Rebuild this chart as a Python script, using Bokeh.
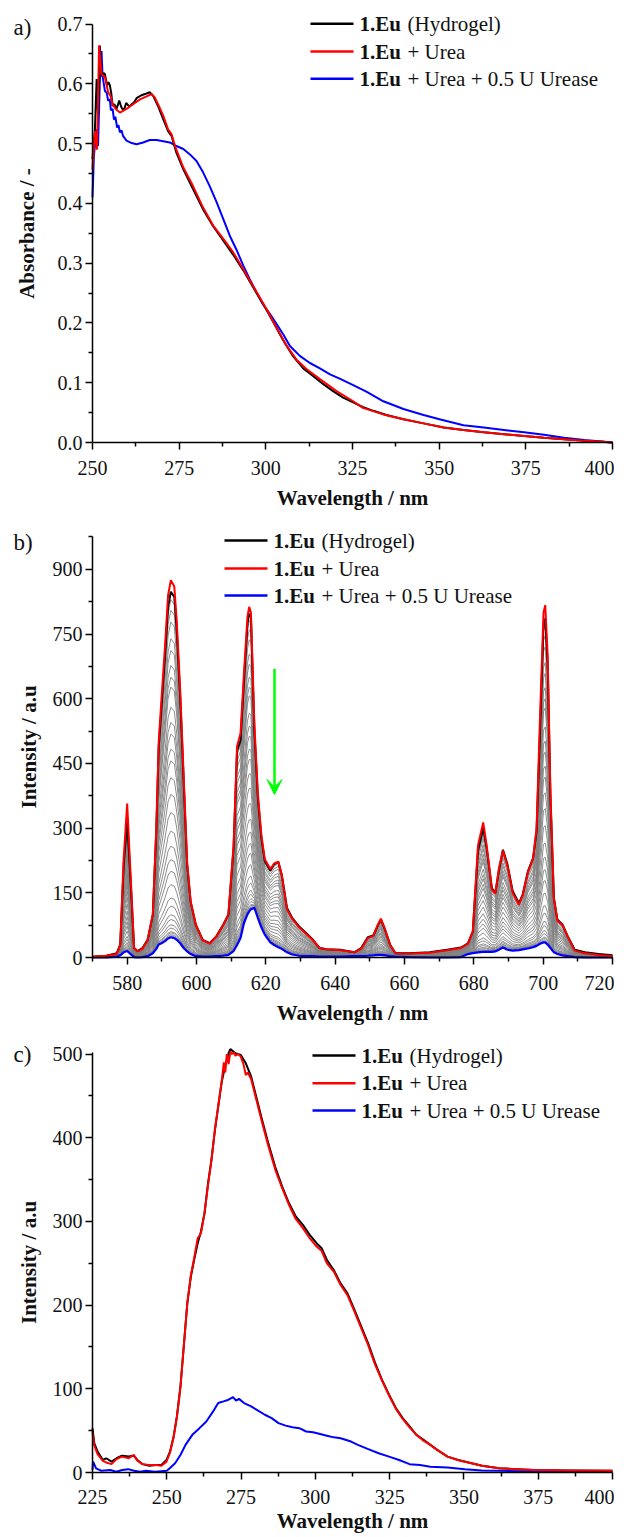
import numpy as np
from bokeh.plotting import figure
from bokeh.models import Range1d, FixedTicker, Label, Arrow, VeeHead, PrintfTickFormatter
from bokeh.layouts import column
from bokeh.embed import file_html
from bokeh.resources import INLINE

# ---------------- data: panel a (UV-vis absorbance) ----------------
wl_a_black = [250.0, 250.7, 251.2, 251.6, 252.1, 252.6, 253.2, 253.6, 254.2, 254.6,
              255.0, 255.4, 255.8, 256.3, 256.9, 257.4, 257.7, 258.1, 258.4, 258.9,
              259.3, 259.7, 260.0, 260.6, 261.3, 262.0, 262.7, 264.1, 265.6, 266.5,
              267.5, 268.9, 270.4, 271.8, 272.8, 274.2, 276.2, 279.0, 281.9, 284.8,
              287.7, 290.6, 293.5, 296.3, 299.2, 302.1, 305.0, 307.9, 310.8, 313.7,
              316.5, 319.4, 322.3, 325.2, 328.1, 331.0, 334.8, 339.7, 345.5, 351.3,
              357.0, 362.9, 368.7, 374.5, 380.2, 386.0, 392.0, 396.0, 400.0]
abs_a_black = [0.474, 0.524, 0.608, 0.547, 0.664, 0.613, 0.618, 0.616, 0.597, 0.603,
               0.598, 0.585, 0.563, 0.566, 0.558, 0.566, 0.572, 0.565, 0.56, 0.556,
               0.56, 0.568, 0.566, 0.562, 0.566, 0.569, 0.576, 0.581, 0.584, 0.586,
               0.58, 0.563, 0.541, 0.521, 0.513, 0.485, 0.457, 0.424, 0.39, 0.362,
               0.338, 0.314, 0.288, 0.26, 0.232, 0.202, 0.171, 0.144, 0.124, 0.111,
               0.098, 0.086, 0.075, 0.067, 0.059, 0.053, 0.046, 0.039, 0.032, 0.025,
               0.021, 0.017, 0.014, 0.011, 0.008, 0.0056, 0.003, 0.0015, 0.0]

wl_a_red = [250.0, 250.7, 251.3, 251.9, 252.6, 253.6, 254.5, 255.2, 255.8, 256.7,
            257.9, 258.8, 260.3, 261.7, 263.7, 265.6, 267.0, 268.0, 268.9, 270.4,
            271.8, 272.8, 273.8, 276.2, 279.0, 281.9, 284.8, 287.7, 290.6, 293.5,
            296.3, 300.2, 303.1, 306.0, 308.8, 311.7, 315.6, 320.4, 325.2, 328.0,
            333.9, 339.7, 345.5, 351.3, 357.0, 362.9, 368.7, 374.5, 380.2, 386.0,
            392.0, 396.0, 400.0]
abs_a_red = [0.457, 0.521, 0.49, 0.664, 0.616, 0.611, 0.586, 0.58, 0.566, 0.558,
             0.552, 0.555, 0.56, 0.566, 0.574, 0.579, 0.583, 0.577, 0.566, 0.547,
             0.524, 0.516, 0.496, 0.46, 0.429, 0.393, 0.363, 0.341, 0.318, 0.29,
             0.262, 0.223, 0.192, 0.162, 0.139, 0.123, 0.106, 0.086, 0.069, 0.058,
             0.047, 0.039, 0.032, 0.025, 0.021, 0.017, 0.014, 0.011, 0.008, 0.0056,
             0.003, 0.0015, 0.0]

wl_a_blue = [250.0, 250.4, 250.7, 251.2, 251.6, 252.1, 252.6, 252.9, 253.6, 254.1,
             254.5, 255.0, 255.3, 255.8, 256.2, 256.6, 257.1, 257.5, 257.9, 258.4,
             258.8, 259.8, 261.3, 262.7, 264.6, 266.5, 268.5, 270.4, 272.3, 274.2,
             276.2, 278.1, 280.0, 281.9, 283.8, 285.8, 287.7, 289.6, 291.5, 293.5,
             295.4, 297.3, 299.2, 301.2, 303.1, 305.0, 306.9, 309.8, 312.7, 315.6,
             318.5, 321.3, 325.2, 329.0, 333.9, 339.7, 345.5, 350.1, 357.0, 362.9,
             368.7, 374.5, 380.2, 386.0, 391.9, 396.0, 400.0]
abs_a_blue = [0.41, 0.48, 0.496, 0.524, 0.496, 0.602, 0.655, 0.613, 0.588, 0.585,
              0.572, 0.574, 0.556, 0.558, 0.54, 0.545, 0.527, 0.531, 0.519, 0.522,
              0.513, 0.505, 0.501, 0.499, 0.502, 0.506, 0.506, 0.504, 0.502, 0.496,
              0.491, 0.482, 0.471, 0.452, 0.429, 0.402, 0.374, 0.346, 0.323, 0.296,
              0.273, 0.251, 0.231, 0.215, 0.198, 0.181, 0.162, 0.145, 0.133, 0.124,
              0.114, 0.107, 0.096, 0.085, 0.069, 0.056, 0.046, 0.039, 0.029, 0.025,
              0.021, 0.017, 0.013, 0.008, 0.0044, 0.002, 0.0]

# ---------------- data: panel b (emission, titration) ----------------
wl_b = [570, 574, 577, 578, 579, 580, 581, 582, 583, 584.4,
        585.9, 587.4, 588.4, 589.1, 589.9, 590.9, 591.8, 592.6, 593.6, 594.3,
        595.3, 596.3, 597.3, 598.3, 599.8, 601.8, 603.8, 605.7, 607.7, 609.2,
        610.7, 611.7, 612.7, 613.7, 614.7, 615.2, 615.7, 616.7, 617.7, 618.7,
        619.7, 621.3, 622.4, 623.6, 624.6, 626.1, 627.6, 629.6, 631.6, 633.6,
        635.5, 637.5, 641.5, 645.5, 647.5, 649.4, 651, 652.4, 653.2, 654.4,
        655.9, 657.4, 661.4, 667.3, 672.3, 676.3, 678.3, 679.7, 681.2, 682.7,
        683.7, 685.2, 686.2, 687.2, 688.4, 689.7, 691.2, 693, 694.1, 695.6,
        697.1, 698.1, 699.1, 700.1, 700.6, 701.3, 702.1, 703.1, 704.1, 705.6,
        707.1, 709.1, 712, 716, 720]
int_b_black = [2, 4, 10, 30, 215, 316, 177, 22, 15, 22,
               41, 99, 293, 487, 580, 697, 813, 848, 836, 759,
               603, 410, 216, 130, 76, 41, 33, 49, 76, 99,
               254, 479, 503, 642, 774, 797, 790, 526, 371, 278,
               223, 202, 216, 222, 192, 115, 92, 72, 57, 41,
               22, 19, 18, 12, 22, 47, 51, 76, 88, 64,
               29, 10, 10, 12, 18, 23, 33, 60, 247, 301,
               254, 161, 150, 200, 250, 216, 154, 126, 146, 200,
               231, 293, 526, 774, 786, 681, 371, 138, 88, 76,
               49, 18, 12, 8, 5]
int_b_red = [2, 4, 8, 30, 230, 357, 190, 22, 14, 20,
             40, 100, 300, 500, 600, 720, 840, 875, 860, 780,
             620, 420, 220, 130, 76, 40, 32, 48, 75, 100,
             260, 490, 520, 660, 790, 813, 800, 540, 380, 285,
             228, 205, 218, 222, 190, 112, 90, 70, 55, 40,
             22, 19, 17, 12, 20, 45, 50, 78, 90, 65,
             28, 10, 9, 11, 17, 22, 32, 60, 260, 313,
             260, 158, 148, 205, 248, 212, 150, 122, 145, 198,
             230, 300, 560, 800, 817, 700, 380, 135, 86, 75,
             48, 16, 10, 6, 3]
int_b_blue = [0, 0, 2, 5, 12, 15, 8, 1, 0, 1,
              3, 10, 20, 30, 33, 38, 44, 47, 45, 41,
              33, 22, 14, 8, 3, 2, 2, 3, 4, 6,
              15, 29, 45, 80, 100, 107, 112, 115, 92, 70,
              53, 35, 29, 24, 20, 12, 7, 4, 3, 3,
              2, 2, 2, 3, 3, 4, 5, 6, 6, 5,
              3, 2, 1, 0, 0, 1, 8, 10, 12, 13,
              13, 13, 14, 18, 23, 18, 16, 17, 19, 21,
              24, 27, 32, 35, 35, 30, 22, 12, 8, 5,
              3, 1, 0, 0, 0]
# peak heights (592 nm band) of the intermediate (grey) spectra
grey_peak_592 = [830, 805, 778, 739, 712, 677, 650, 627, 580, 545, 518, 483, 456,
                 417, 378, 336, 293, 258, 227, 200, 169, 138, 119, 99, 88, 76, 68,
                 60, 57, 53, 50]
arrow_wl = 622.5
arrow_top = 669
arrow_tip = 378

# ---------------- data: panel c (excitation) ----------------
wl_c_black = [225, 225.6, 226.7, 228.5, 229.6, 231.4, 233.1, 234.9, 237.2, 238.9,
              240.1, 241.8, 244.1, 246.5, 248.2, 249.9, 251.1, 252.3, 253.4, 254.6,
              255.7, 256.9, 258.1, 259.2, 260.4, 261.5, 262.7, 263.9, 265, 266.2,
              267.3, 268.5, 269.7, 270.8, 271.4, 273.1, 274.9, 276.6, 278.4, 280.1,
              281.8, 284.2, 286.5, 288.8, 291.1, 293.4, 295.8, 298.1, 300.4, 302.1,
              303.9, 306.2, 308.5, 310.8, 313.2, 315.5, 317.8, 320.1, 322.4, 324.8,
              327.1, 329.4, 331.7, 334, 336.4, 338.7, 341, 344.5, 348, 351.5,
              356.1, 361.9, 367.7, 373.5, 385.1, 400]
int_c_black = [53, 35, 25, 15, 17, 13, 17, 20, 19, 20,
               15, 10, 8, 9, 9, 15, 25, 43, 67, 103,
               150, 202, 234, 254, 274, 288, 310, 346, 373, 409,
               437, 467, 487, 501, 506, 501, 499, 489, 473, 449,
               425, 393, 365, 342, 322, 306, 296, 284, 274, 268,
               254, 242, 226, 214, 194, 174, 154, 131, 111, 93,
               77, 65, 55, 45, 39, 33, 27, 19, 15, 12,
               8, 5, 4, 3, 2.5, 2]
wl_c_red = [225, 225.6, 226.7, 228.5, 229.6, 231.4, 233.1, 234.9, 237.2, 238.9,
            240.1, 241.8, 244.1, 246.5, 248.2, 249.9, 251.1, 252.3, 253.4, 254.6,
            255.7, 256.9, 258.1, 259.2, 260.4, 261.5, 262.7, 263.9, 265, 266.2,
            267.3, 268.5, 269.2, 269.7, 270.2, 270.8, 271.4, 272.0, 272.6, 273.1,
            274.0, 274.9, 275.8, 276.6, 277.3, 278.4, 280.1, 281.8, 284.2, 286.5,
            288.8, 291.1, 293.4, 295.8, 298.1, 300.4, 302.1, 303.9, 306.2, 308.5,
            310.8, 313.2, 315.5, 317.8, 320.1, 322.4, 324.8, 327.1, 329.4, 331.7,
            334, 336.4, 338.7, 341, 344.5, 348, 351.5, 356.1, 361.9, 367.7,
            373.5, 385.1, 400]
int_c_red = [48, 32, 22, 14, 12, 10, 16, 19, 17, 21,
             14, 10, 9, 9, 8, 13, 24, 42, 66, 102,
             150, 202, 236, 256, 280, 286, 310, 344, 372, 410,
             438, 468, 490, 478, 500, 488, 503, 500, 502, 498,
             500, 497, 488, 475, 478, 470, 446, 422, 390, 362,
             340, 320, 303, 292, 280, 270, 265, 250, 240, 224,
             212, 192, 172, 152, 129, 110, 92, 76, 64, 54,
             45, 38, 33, 27, 19, 15, 12, 8, 5, 4,
             3, 2.5, 2]
wl_c_blue = [225, 225.2, 226.2, 228, 231, 233, 235, 237, 239, 241,
             243, 246, 248, 250, 251, 252.8, 254.6, 256.3, 258.6, 261,
             263.3, 265.6, 267.3, 269.1, 270.8, 272.3, 273.3, 274.3, 276, 278.4,
             280.7, 283, 285.3, 287.6, 290, 292.3, 294.6, 296.9, 299.2, 301.6,
             303.9, 306.2, 308.5, 312, 314.3, 317.8, 321.3, 324.8, 328.2, 331.7,
             335.2, 338.7, 344.5, 350.3, 356, 362, 375, 400]
int_c_blue = [3, 13, 5, 2, 3, 1, 3, 4, 2, 1,
              2, 1, 1.5, 2, 5, 11, 21, 33, 45, 53,
              61, 73, 83, 85, 87, 90, 86, 88, 83, 79,
              74, 69, 65, 59, 56, 54, 53, 49, 48, 46,
              44, 42, 41, 37, 33, 28, 23, 19, 15, 10,
              9, 7, 6, 4, 2.4, 2, 1, 1]

# ---------------- tick positions ----------------
a_xticks = [250, 275, 300, 325, 350, 375, 400]
a_xminor = [262.5, 287.5, 312.5, 337.5, 362.5, 387.5]
a_yticks = [0.0, 0.1, 0.2, 0.3, 0.4, 0.5, 0.6, 0.7]
a_yminor = [0.05, 0.15, 0.25, 0.35, 0.45, 0.55, 0.65]
b_xticks = [580, 600, 620, 640, 660, 680, 700, 720]
b_xminor = [570, 590, 610, 630, 650, 670, 690, 710]
b_yticks = [0, 150, 300, 450, 600, 750, 900]
b_yminor = [75, 225, 375, 525, 675, 825, 975]
c_xticks = [225, 250, 275, 300, 325, 350, 375, 400]
c_xminor = [237.5, 262.5, 287.5, 312.5, 337.5, 362.5, 387.5]
c_yticks = [0, 100, 200, 300, 400, 500]
c_yminor = [50, 150, 250, 350, 450]

legend_names = [("1.Eu", "(Hydrogel)"), ("1.Eu", "+ Urea"), ("1.Eu", "+ Urea + 0.5 U Urease")]
legend_colors = ["#000000", "#ff0000", "#0000ff"]

SERIF = "Liberation Serif, Times New Roman, serif"
TXT = "#111111"
W = 614          # figure width (the plotting frame spans the whole figure)
AX_L = 92        # page x of the left end of the x axis
AX_R = 612       # page x of the right end of the x axis


class Panel:
    def __init__(self, fig_top, height, zero_y, xmin, xmax, ytop_axis, px_per_unit,
                 xt, xm, yt, ym, ylabel, ylab_standoff, s1, s2):
        self.top = fig_top
        self.h = height
        span = xmax - xmin
        x0 = xmin - AX_L / (AX_R - AX_L) * span
        x1 = xmax + (W - AX_R) / (AX_R - AX_L) * span
        below = fig_top + height - zero_y      # pixels below the zero line
        above = zero_y - fig_top
        p = figure(frame_width=W, frame_height=height,
                   x_range=Range1d(x0, x1),
                   y_range=Range1d(-below / px_per_unit, above / px_per_unit),
                   output_backend="svg", toolbar_location=None,
                   min_border_left=0, min_border_right=0, min_border_top=0,
                   min_border_bottom=0)
        p.outline_line_color = None
        p.xgrid.visible = False
        p.ygrid.visible = False
        p.background_fill_color = "white"
        p.border_fill_color = "white"
        p.xaxis.ticker = FixedTicker(ticks=xt, minor_ticks=xm)
        p.yaxis.ticker = FixedTicker(ticks=yt, minor_ticks=ym)
        p.xaxis.bounds = (xmin, xmax)
        p.yaxis.bounds = (0, ytop_axis)
        p.xaxis.fixed_location = 0
        p.yaxis.fixed_location = xmin
        for ax in (p.xaxis[0], p.yaxis[0]):
            ax.axis_line_width = 1.5
            ax.axis_line_color = "black"
            ax.major_tick_line_width = 1.5
            ax.minor_tick_line_width = 1.5
            ax.major_tick_line_color = "black"
            ax.minor_tick_line_color = "black"
            ax.major_tick_out = 7
            ax.major_tick_in = 0
            ax.minor_tick_out = 4
            ax.minor_tick_in = 0
            ax.major_label_text_font = SERIF
            ax.major_label_text_font_size = "20px"
            ax.major_label_text_color = TXT
            ax.axis_label_text_font = SERIF
            ax.axis_label_text_font_size = "21px"
            ax.axis_label_text_font_style = "bold"
            ax.axis_label_text_color = TXT
        p.xaxis.axis_label = "Wavelength / nm"
        p.xaxis.major_label_standoff = s1
        p.xaxis.axis_label_standoff = s2
        p.yaxis.axis_label = ylabel
        p.yaxis.major_label_standoff = 3
        p.yaxis.axis_label_standoff = ylab_standoff
        self.p = p

    def sy(self, page_y):
        # screen y (from the bottom of the frame) of a page y position
        return self.top + self.h - page_y

    def letter(self, text, page_y):
        self.p.add_layout(Label(x=13, y=self.sy(page_y), x_units="screen", y_units="screen",
                                text=text, text_font=SERIF, text_font_size="23px",
                                text_baseline="middle", text_align="left", text_color=TXT))

    def legend(self, x0, x1, xt, rows):
        for (bold, rest), color, py in zip(legend_names, legend_colors, rows):
            y = self.sy(py)
            self.p.add_layout(Arrow(end=None, x_start=x0, y_start=y, x_end=x1, y_end=y,
                                    start_units="screen", end_units="screen",
                                    line_color=color, line_width=2.5))
            self.p.add_layout(Label(x=xt, y=y, x_units="screen", y_units="screen", text=bold,
                                    text_font=SERIF, text_font_size="21px",
                                    text_font_style="bold", text_baseline="middle",
                                    text_align="left", text_color=TXT))
            self.p.add_layout(Label(x=xt + 48, y=y, x_units="screen", y_units="screen",
                                    text=rest, text_font=SERIF, text_font_size="21px",
                                    text_baseline="middle", text_align="left", text_color=TXT))


# ---------------- panel a ----------------
A = Panel(0, 512, 442, 250, 400, 0.7, 597.7, a_xticks, a_xminor, a_yticks, a_yminor,
          "Absorbance / -", 16, 11, 8)
pa = A.p
pa.yaxis.formatter = PrintfTickFormatter(format="%.1f")
pa.line(wl_a_blue, abs_a_blue, line_color="#0000ff", line_width=2)
pa.line(wl_a_black, abs_a_black, line_color="#000000", line_width=2)
pa.line(wl_a_red, abs_a_red, line_color="#ff0000", line_width=2)
A.letter("a)", 27)
A.legend(310, 353, 359, [23.3, 51, 78.3])

# ---------------- panel b ----------------
B = Panel(512, 515, 957, 570, 720, 975, 0.4313, b_xticks, b_xminor, b_yticks, b_yminor,
          "Intensity / a.u", 9, 11, 8)
pb = B.p
blk = np.array(int_b_black, dtype=float)
blu = np.array(int_b_blue, dtype=float)
i592 = wl_b.index(592.6)
grey_ys = []
for pk in grey_peak_592:
    f = (pk - blu[i592]) / (blk[i592] - blu[i592])
    grey_ys.append(list(blu + f * (blk - blu)))
pb.multi_line([wl_b] * len(grey_ys), grey_ys, line_color="#808080", line_width=0.9)
pb.line(wl_b, int_b_blue, line_color="#0000ff", line_width=2.2)
pb.line(wl_b, int_b_black, line_color="#000000", line_width=2)
pb.line(wl_b, int_b_red, line_color="#ff0000", line_width=2)
pb.add_layout(Arrow(end=VeeHead(size=15, fill_color="#00ff00", line_color="#00ff00"),
                    x_start=arrow_wl, y_start=arrow_top, x_end=arrow_wl, y_end=arrow_tip,
                    line_color="#00ff00", line_width=2.5))
B.letter("b)", 542)
B.legend(224, 267, 273, [540, 568, 595])

# ---------------- panel c ----------------
C = Panel(1027, 510, 1472, 225, 400, 501.5, 0.8368, c_xticks, c_xminor, c_yticks, c_yminor,
          "Intensity / a.u", 9, 10, 2)
pc = C.p
pc.line(wl_c_blue, int_c_blue, line_color="#0000ff", line_width=2)
pc.line(wl_c_black, int_c_black, line_color="#000000", line_width=2)
pc.line(wl_c_red, int_c_red, line_color="#ff0000", line_width=2)
C.letter("c)", 1054)
C.legend(312, 355, 361, [1055, 1082.7, 1110])

layout = column(pa, pb, pc)
open("out.html", "w").write(file_html(layout, INLINE))
